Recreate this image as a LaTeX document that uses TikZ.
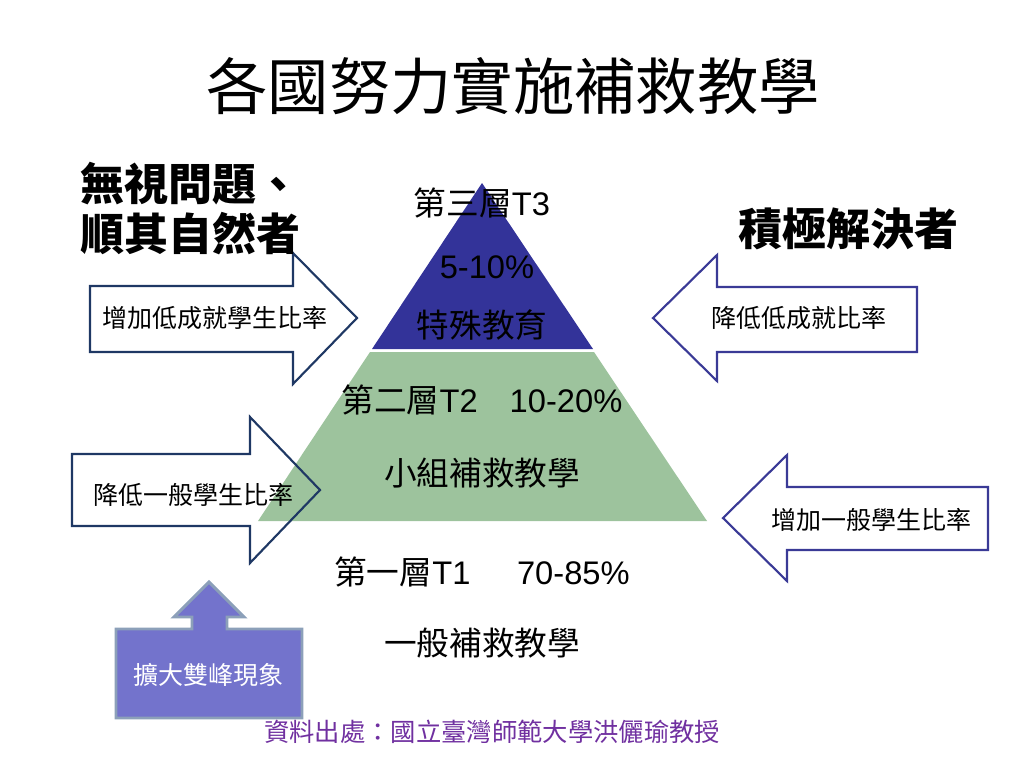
\documentclass[tikz,border=0pt]{standalone}
\usepackage{fontspec}
\setmainfont{Liberation Sans}
\newfontfamily\cjk{Noto Sans CJK TC}
\usepackage{tikz}
\usetikzlibrary{positioning}
\definecolor{navyline}{RGB}{31,56,100}
\definecolor{blueline}{RGB}{58,58,150}
\definecolor{tierthree}{RGB}{51,51,153}
\definecolor{tiertwo}{RGB}{157,195,157}
\definecolor{calloutfill}{RGB}{115,115,204}
\definecolor{calloutline}{RGB}{140,160,185}
\definecolor{sourcecol}{RGB}{112,48,160}
\tikzstyle{heading} = [font=\cjk\bfseries\fontsize{33}{36}\selectfont, anchor=west, inner sep=0pt]
\tikzstyle{tier} = [font=\fontsize{24.5}{28}\selectfont, inner sep=0pt]
\tikzstyle{note} = [font=\cjk\fontsize{18.75}{21}\selectfont, inner sep=0pt]
\tikzstyle{navyarrow} = [draw=navyline, line width=1.6pt, line join=miter]
\tikzstyle{bluearrow} = [draw=blueline, line width=1.6pt, line join=miter]
\tikzstyle{callout} = [fill=calloutfill, draw=calloutline, line width=2.2pt]

\begin{document}
\begin{tikzpicture}[x=0.75pt, y=-0.75pt]
    \useasboundingbox (0,0) rectangle (1024,768);

    % pyramid
    \fill[tierthree] (482,183) -- (372,349) -- (593,349) -- cycle;
    \fill[tiertwo] (370,352) -- (594,352) -- (707,521) -- (258,521) -- cycle;

    % side arrows
    \draw[navyarrow] (90,286) -- (293,286) -- (293,253) -- (357,318) -- (293,384) -- (293,352) -- (90,352) -- cycle;
    \draw[bluearrow] (917,287) -- (717,287) -- (717,255) -- (653,318) -- (717,381) -- (717,352) -- (917,352) -- cycle;
    \draw[navyarrow] (72,454) -- (250,454) -- (250,417) -- (320,490) -- (250,563) -- (250,526) -- (72,526) -- cycle;
    \draw[bluearrow] (988,487) -- (787,487) -- (787,455) -- (723,518) -- (787,581) -- (787,550) -- (988,550) -- cycle;

    % up arrow callout
    \draw[callout] (116,718) -- (116,629) -- (192,629) -- (192,617) -- (174,617) -- (209,582)
        -- (244,617) -- (227,617) -- (227,629) -- (302,629) -- (302,718) -- cycle;

    \node[font=\cjk\fontsize{46}{50}\selectfont, inner sep=0pt] (title) at (513,86) {各國努力實施補救教學};
    \node[heading] (ignore1) at (80,184) {無視問題、};
    \node[heading] (ignore2) at (80,234) {順其自然者};
    \node[heading] (active) at (738,229) {積極解決者};

    \node[tier] (t3name) at (482,203) {{\cjk 第三層}T3};
    \node[tier] (t3rate) at (487,267) {5-10\%};
    \node[tier] (t3kind) at (482,325) {\cjk 特殊教育};
    \node[tier] (t2name) at (482,400) {{\cjk 第二層}T2\hspace{24pt}10-20\%};
    \node[tier] (t2kind) at (482,473) {\cjk 小組補救教學};
    \node[tier] (t1name) at (482,572) {{\cjk 第一層}T1\hspace{35pt}70-85\%};
    \node[tier] (t1kind) at (482,643) {\cjk 一般補救教學};

    \node[note] (morelow) at (215,318) {增加低成就學生比率};
    \node[note] (lesslow) at (799,318) {降低低成就比率};
    \node[note] (lessavg) at (193,495) {降低一般學生比率};
    \node[note] (moreavg) at (871,520) {增加一般學生比率};
    \node[note, text=white] (bimodal) at (208,675) {擴大雙峰現象};

    \node[note, text=sourcecol, font=\cjk\fontsize{19}{21}\selectfont] (source) at (492,732) {資料出處：國立臺灣師範大學洪儷瑜教授};
\end{tikzpicture}
\end{document}
